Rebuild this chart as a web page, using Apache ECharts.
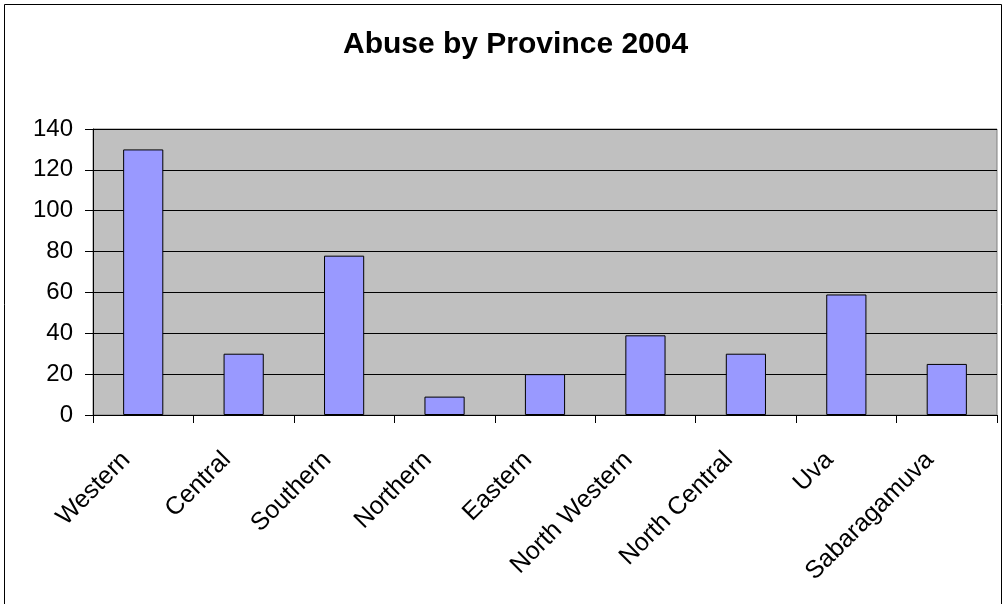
<!DOCTYPE html>
<html>
<head>
<meta charset="utf-8">
<script src="https://cdn.jsdelivr.net/npm/echarts@6/dist/echarts.min.js"></script>
<style>
  html, body { margin: 0; padding: 0; background: #fff; }
  #chart { width: 1005px; height: 604px; }
</style>
</head>
<body>
<div id="chart"></div>
<script>
// provinces and counts
const provinces = ['Western', 'Central', 'Southern', 'Northern', 'Eastern',
  'North Western', 'North Central', 'Uva', 'Sabaragamuva'];
const abuseCases = [130, 30, 78, 9, 20, 39, 30, 59, 25];
const yTicks = { min: 0, max: 140, step: 20 };

const font = '"Liberation Sans", Arial, sans-serif';

let myChart = echarts.init(document.getElementById('chart'));
myChart.setOption({
  animation: false,
  backgroundColor: '#fff',
  title: {
    text: 'Abuse by Province 2004',
    left: 338,
    top: 25,
    textStyle: { fontFamily: font, fontSize: 30, fontWeight: 'bold', color: '#000' }
  },
  graphic: [{
    type: 'rect',
    shape: { x: 4.5, y: 4.5, width: 997, height: 700 },
    style: { fill: null, stroke: '#000', lineWidth: 1 },
    silent: true
  }],
  grid: {
    left: 93, right: 8, top: 129, bottom: 189,
    show: true,
    backgroundColor: '#c0c0c0',
    borderColor: '#808080',
    borderWidth: 1
  },
  xAxis: {
    type: 'category',
    data: provinces,
    axisLine: { lineStyle: { color: '#000', width: 1 } },
    axisTick: { show: true, alignWithLabel: false, length: 8, lineStyle: { color: '#000' } },
    axisLabel: {
      rotate: 45,
      interval: 0,
      margin: 24,
      padding: [0, 24, 0, 0],
      fontFamily: font,
      fontSize: 25,
      color: '#000'
    },
    splitLine: { show: false }
  },
  yAxis: {
    type: 'value',
    min: yTicks.min,
    max: yTicks.max,
    interval: yTicks.step,
    axisLine: { show: true, lineStyle: { color: '#000', width: 1 } },
    axisTick: { show: true, length: 8, lineStyle: { color: '#000' } },
    axisLabel: { margin: 20, fontFamily: font, fontSize: 24, color: '#000' },
    splitLine: { show: true, lineStyle: { color: '#000', width: 1 } }
  },
  series: [{
    name: 'Abuse',
    type: 'bar',
    data: abuseCases,
    barCategoryGap: '60%',
    itemStyle: { color: '#9999ff', borderColor: '#000', borderWidth: 1 }
  }]
});
</script>
</body>
</html>
